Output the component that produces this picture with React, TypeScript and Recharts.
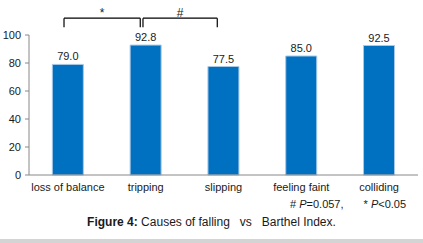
import React from 'react';
import {
  BarChart,
  Bar,
  XAxis,
  YAxis,
  LabelList,
  ReferenceLine,
} from 'recharts';

const causes = ['loss of balance', 'tripping', 'slipping', 'feeling faint', 'colliding'];
const barthel = [79.0, 92.8, 77.5, 85.0, 92.5];
const yTicks = [0, 20, 40, 60, 80, 100];

// significance brackets, in category-index units: [from, to, mark]
const brackets: [number, number, string][] = [
  [-0.05, 0.93, '*'],
  [0.965, 1.92, '#'],
];
const bracketTop = 112;
const bracketFoot = 105.5;

const FONT = 'Arial, "Liberation Sans", sans-serif';
const TEXT = '#1a1a1a';

const data = causes.map((name, i) => ({ name, idx: i, value: barthel[i] }));

export default function App() {
  return (
    <div
      style={{
        position: 'absolute',
        left: 0,
        top: 0,
        width: 423,
        height: 243,
        background: '#fff',
        fontFamily: FONT,
        color: TEXT,
        overflow: 'hidden',
      }}
    >
      <BarChart
        width={423}
        height={200}
        data={data}
        margin={{ top: 35, right: 5, left: 0, bottom: 0 }}
        barCategoryGap="30%"
      >
        <XAxis
          dataKey="name"
          height={25}
          axisLine={{ stroke: '#888' }}
          tickLine={false}
          tick={{ fontSize: 11, fill: TEXT, fontFamily: FONT }}
          interval={0}
        />
        <XAxis
          xAxisId="pos"
          dataKey="idx"
          type="number"
          domain={[-0.5, 4.5]}
          allowDataOverflow
          hide
        />
        <YAxis
          width={29}
          domain={[0, 100]}
          ticks={yTicks}
          axisLine={{ stroke: '#888' }}
          tickLine={{ stroke: '#888' }}
          tickSize={4}
          tickMargin={4}
          tick={{ fontSize: 11, fill: TEXT, fontFamily: FONT }}
        />
        {brackets.map(([a, b, mark]) => (
          <React.Fragment key={mark}>
            <ReferenceLine
              xAxisId="pos"
              segment={[{ x: a, y: bracketTop }, { x: b, y: bracketTop }]}
              stroke="#000"
              strokeWidth={1.2}
              ifOverflow="visible"
              label={{ value: mark, position: 'top', fontSize: 12, fill: TEXT, offset: 1 }}
            />
            <ReferenceLine
              xAxisId="pos"
              segment={[{ x: a, y: bracketTop }, { x: a, y: bracketFoot }]}
              stroke="#000"
              strokeWidth={1.2}
              ifOverflow="visible"
            />
            <ReferenceLine
              xAxisId="pos"
              segment={[{ x: b, y: bracketTop }, { x: b, y: bracketFoot }]}
              stroke="#000"
              strokeWidth={1.2}
              ifOverflow="visible"
            />
          </React.Fragment>
        ))}
        <Bar
          dataKey="value"
          fill="#0070c0"
          stroke="#a8c8e8"
          strokeWidth={1}
          isAnimationActive={false}
        >
          <LabelList
            dataKey="value"
            position="top"
            offset={4}
            formatter={(v: number) => v.toFixed(1)}
            style={{ fontSize: 11, fill: TEXT, fontFamily: FONT }}
          />
        </Bar>
      </BarChart>
      <div
        style={{
          position: 'absolute',
          left: 290,
          top: 198,
          fontSize: 11,
          whiteSpace: 'nowrap',
        }}
      >
        <span># <i>P</i>=0.057,</span>
        <span style={{ marginLeft: 20 }}>* <i>P</i>&lt;0.05</span>
      </div>
      <div
        style={{
          position: 'absolute',
          left: 0,
          width: 423,
          top: 215,
          textAlign: 'center',
          fontSize: 12,
          whiteSpace: 'pre',
        }}
      >
        <b>Figure 4:</b> Causes of falling   vs   Barthel Index.
      </div>
      <div
        style={{
          position: 'absolute',
          left: 0,
          top: 239,
          width: 423,
          height: 4,
          background: '#d4d4d4',
        }}
      />
    </div>
  );
}
